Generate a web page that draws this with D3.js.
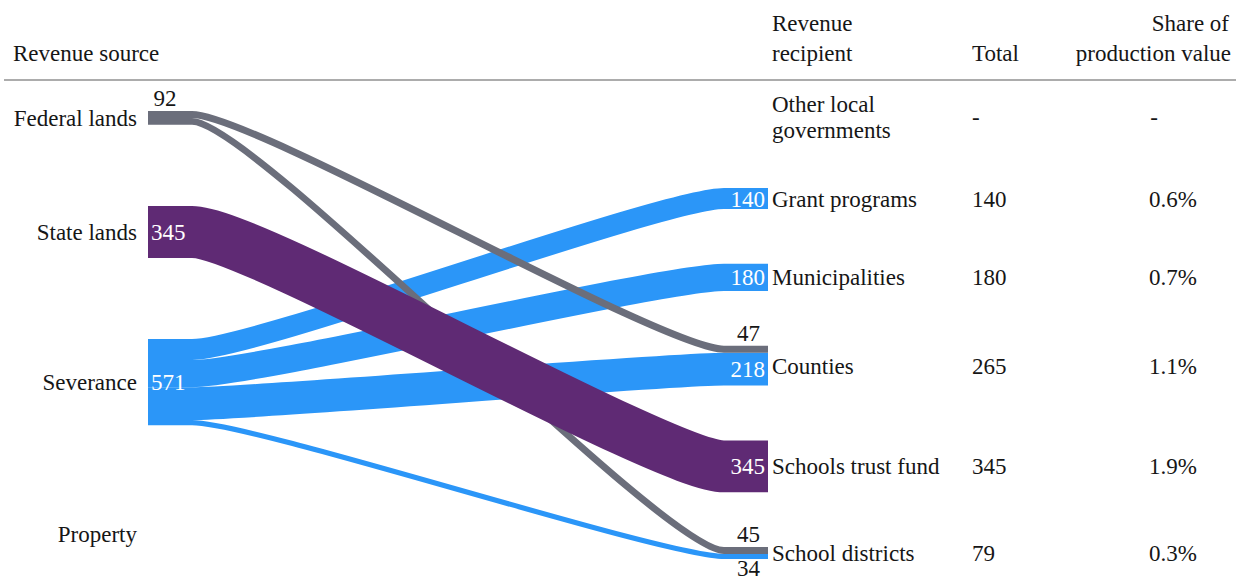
<!DOCTYPE html>
<html>
<head>
<meta charset="utf-8">
<script src="https://cdn.jsdelivr.net/npm/d3@7"></script>
<style>
  body { margin: 0; background: #fff; }
  svg { display: block; }
  text { font-family: "Liberation Serif", "DejaVu Serif", serif; font-size: 23px; fill: #161616; }
  .head-rule { stroke: #5a5a5a; stroke-width: 1.2; }
  .link { fill: none; stroke-linecap: butt; }
  .in-label { fill: #fff; }
</style>
</head>
<body>
<svg id="chart"></svg>
<script>
// data
const sources = ["Federal lands", "State lands", "Severance", "Property"];
const sourceTotals = [92, 345, 571, 0];

const recipients = ["Other local governments", "Grant programs", "Municipalities", "Counties", "Schools trust fund", "School districts"];
const recipientTotals = [0, 140, 180, 265, 345, 79];
const totalLabels = ["-", "140", "180", "265", "345", "79"];
const shareLabels = ["-", "0.6%", "0.7%", "1.1%", "1.9%", "0.3%"];

const flowSource = ["Federal lands", "Federal lands", "State lands", "Severance", "Severance", "Severance", "Severance"];
const flowTarget = ["Counties", "School districts", "Schools trust fund", "Grant programs", "Municipalities", "Counties", "School districts"];
const flowValue = [47, 45, 345, 140, 180, 218, 34];

const sourceColor = d3.scaleOrdinal()
  .domain(sources)
  .range(["#6b6e7b", "#5f2a74", "#2b96f8", "#2b96f8"]);

// layout
const width = 1236, height = 582;
const x0 = 148, x1 = 768;      // left / right ends of the ribbons
const hold = 44, bend = 62;    // flat part and curve handle of each ribbon
// nodes with a value are spread over the range, empty ones sit at zeroAt
const leftCol = { range: [111, 425], zeroAt: 534 };
const rightCol = { range: [188, 559], zeroAt: 117 };

const svg = d3.select("#chart").attr("width", width).attr("height", height);

const yVal = d3.scaleLinear().domain([0, 571]).range([0, 86]);

function stackColumn(names, values, col) {
  const nodes = new Map();
  const filled = names.filter((n, i) => values[i] > 0);
  const hs = filled.map(n => yVal(values[names.indexOf(n)]));
  const pad = (col.range[1] - col.range[0] - d3.sum(hs)) / (filled.length - 1);
  let y = col.range[0];
  names.forEach((n, i) => {
    if (values[i] > 0) {
      const h = yVal(values[i]);
      nodes.set(n, { name: n, i: i, y0: y, y1: y + h, value: values[i] });
      y += h + pad;
    } else {
      nodes.set(n, { name: n, i: i, y0: col.zeroAt, y1: col.zeroAt, value: 0 });
    }
  });
  return nodes;
}

const leftNodes = stackColumn(sources, sourceTotals, leftCol);
const rightNodes = stackColumn(recipients, recipientTotals, rightCol);

const links = flowValue.map((v, i) => ({
  source: flowSource[i], target: flowTarget[i], value: v, w: yVal(v)
}));

// stack links at each end
sources.forEach(s => {
  let y = leftNodes.get(s).y0;
  links.filter(l => l.source === s)
    .sort((a, b) => rightNodes.get(a.target).i - rightNodes.get(b.target).i)
    .forEach(l => { l.ys = y + l.w / 2; y += l.w; });
});
recipients.forEach(r => {
  let y = rightNodes.get(r).y0;
  const ls = links.filter(l => l.target === r)
    .sort((a, b) => leftNodes.get(a.source).i - leftNodes.get(b.source).i);
  ls.forEach((l, k) => {
    l.yt = y + l.w / 2; l.tTop = y; l.tBot = y + l.w;
    l.last = k === ls.length - 1 && ls.length > 1;
    y += l.w;
  });
});

function ribbon(d) {
  const p = d3.path();
  p.moveTo(x0, d.ys);
  p.lineTo(x0 + hold, d.ys);
  p.bezierCurveTo(x0 + hold + bend, d.ys, x1 - hold - bend, d.yt, x1 - hold, d.yt);
  p.lineTo(x1, d.yt);
  return p.toString();
}

// blue underneath, then grey, purple on top
const drawRank = { "Severance": 0, "Federal lands": 1, "State lands": 2 };

svg.append("g")
  .selectAll("path")
  .data(links.slice().sort((a, b) => drawRank[a.source] - drawRank[b.source]))
  .join("path")
  .attr("class", "link")
  .attr("d", ribbon)
  .attr("stroke", d => sourceColor(d.source))
  .attr("stroke-width", d => d.w);

// header
const head = svg.append("g");
head.append("line").attr("class", "head-rule")
  .attr("x1", 4).attr("x2", width).attr("y1", 80).attr("y2", 80);
head.append("text").attr("x", 13).attr("y", 61).text("Revenue source");
head.append("text").attr("x", 772).attr("y", 31).text("Revenue");
head.append("text").attr("x", 772).attr("y", 61).text("recipient");
head.append("text").attr("x", 972).attr("y", 61).text("Total");
head.append("text").attr("x", 1229).attr("y", 31).attr("text-anchor", "end").text("Share of");
head.append("text").attr("x", 1231).attr("y", 61).attr("text-anchor", "end").text("production value");

// source labels
const leftArr = Array.from(leftNodes.values());
svg.append("g").selectAll("text")
  .data(leftArr)
  .join("text")
  .attr("x", 137)
  .attr("y", d => (d.y0 + d.y1) / 2)
  .attr("dy", "0.35em")
  .attr("text-anchor", "end")
  .text(d => d.name);

const inside = d => d.y1 - d.y0 > 20;
svg.append("g").selectAll("text")
  .data(leftArr.filter(d => d.value > 0))
  .join("text")
  .attr("class", d => inside(d) ? "in-label" : null)
  .attr("x", d => inside(d) ? x0 + 3 : x0 + 17)
  .attr("y", d => inside(d) ? (d.y0 + d.y1) / 2 : d.y0 - 5)
  .attr("dy", d => inside(d) ? "0.35em" : 0)
  .attr("text-anchor", d => inside(d) ? "start" : "middle")
  .text(d => d.value);

// link values at the recipient end
svg.append("g").selectAll("text")
  .data(links)
  .join("text")
  .attr("class", d => d.w > 18 ? "in-label" : null)
  .attr("text-anchor", "end")
  .attr("x", d => d.w > 18 ? x1 - 3 : x1 - 8)
  .attr("y", d => d.w > 18 ? d.yt : (d.last ? d.tBot + 17 : d.tTop - 5))
  .attr("dy", d => d.w > 18 ? "0.35em" : 0)
  .text(d => d.value);

// recipient rows
const rightArr = Array.from(rightNodes.values());
const rows = svg.append("g").selectAll("g")
  .data(rightArr)
  .join("g")
  .attr("transform", d => `translate(0,${(d.y0 + d.y1) / 2})`);

rows.append("text")
  .each(function (d) {
    const words = d.name === "Other local governments" ? ["Other local", "governments"] : [d.name];
    const t = d3.select(this);
    words.forEach((w, k) => {
      t.append("tspan")
        .attr("x", x1 + 4)
        .attr("y", (k - (words.length - 1) / 2) * 26)
        .attr("dy", "0.35em")
        .text(w);
    });
  });

rows.append("text")
  .attr("x", 972)
  .attr("dy", "0.35em")
  .text(d => totalLabels[d.i]);

rows.append("text")
  .attr("x", d => shareLabels[d.i] === "-" ? 1154 : 1197)
  .attr("text-anchor", d => shareLabels[d.i] === "-" ? "middle" : "end")
  .attr("dy", "0.35em")
  .text(d => shareLabels[d.i]);
</script>
</body>
</html>
